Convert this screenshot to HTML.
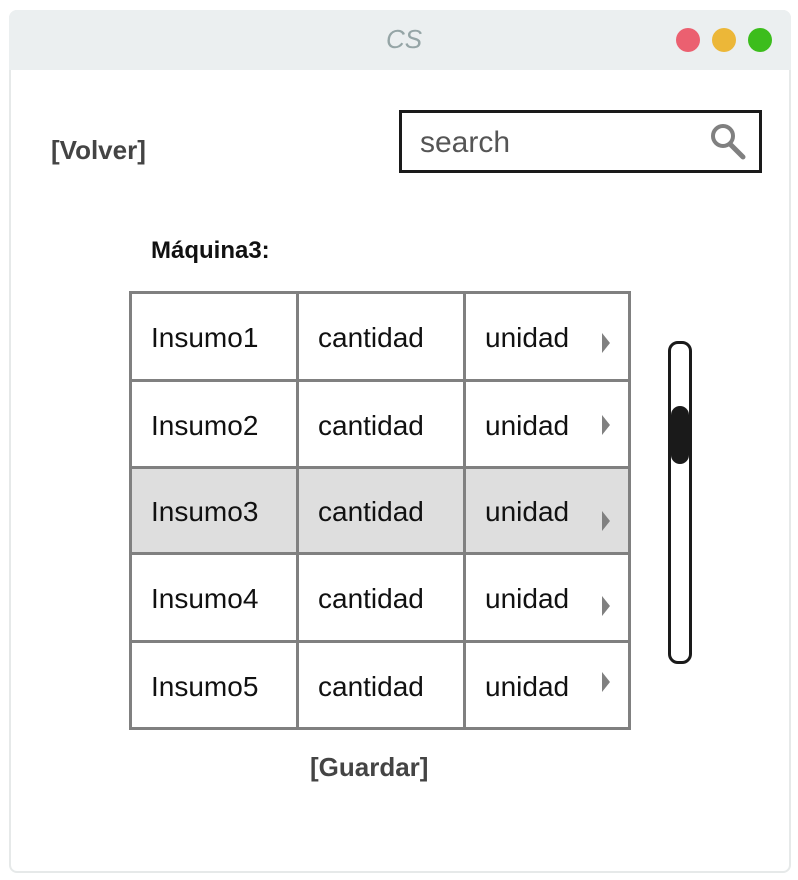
<!DOCTYPE html>
<html><head><meta charset="utf-8"><style>
*{margin:0;padding:0;box-sizing:border-box}
body{width:798px;height:880px;background:#fff;position:relative;font-family:"Liberation Sans","DejaVu Sans",sans-serif;overflow:hidden}
.abs{position:absolute}
.win{left:9px;top:10px;width:782px;height:863px;border:2px solid #e6e9e9;border-radius:8px;background:#fff}
.bar{left:9px;top:10px;width:782px;height:60px;background:#ebeff0;border-radius:8px 8px 0 0}
.dot{width:24px;height:24px;border-radius:50%;top:28px}
.cell{position:absolute;border:3px solid #808080;font-size:28px;color:#111;padding-left:19px;padding-top:3px;display:flex;align-items:center}
.tri{position:absolute;width:0;height:0;border-top:10px solid transparent;border-bottom:10px solid transparent;border-left:8px solid #808080}
</style></head><body>
<div class="abs win"></div>
<div class="abs bar"></div>
<div class="abs" style="left:386px;top:24px;font-size:26px;font-style:italic;color:#95a5a6">CS</div>
<div class="abs dot" style="left:676px;background:#eb6070"></div>
<div class="abs dot" style="left:712px;background:#ecb738"></div>
<div class="abs dot" style="left:748px;background:#3cbd1c"></div>
<div class="abs" style="left:51px;top:135px;font-size:26px;font-weight:bold;color:#444">[Volver]</div>
<div class="abs" style="left:399px;top:110px;width:363px;height:63px;border:3px solid #1a1a1a"></div>
<div class="abs" style="left:420px;top:126px;font-size:30px;color:#555">search</div>
<svg class="abs" style="left:708px;top:122px" width="40" height="40"><circle cx="15" cy="14" r="10" fill="none" stroke="#808080" stroke-width="4"/><line x1="22" y1="22" x2="35" y2="35" stroke="#808080" stroke-width="5" stroke-linecap="round"/></svg>
<div class="abs" style="left:151px;top:237px;font-size:24px;font-weight:bold;color:#111">Máquina3:</div>

<div class="cell" style="left:129px;top:291px;width:170px;height:91px">Insumo1</div>
<div class="cell" style="left:296px;top:291px;width:170px;height:91px">cantidad</div>
<div class="cell" style="left:463px;top:291px;width:168px;height:91px">unidad</div>
<div class="cell" style="left:129px;top:379px;width:170px;height:90px">Insumo2</div>
<div class="cell" style="left:296px;top:379px;width:170px;height:90px">cantidad</div>
<div class="cell" style="left:463px;top:379px;width:168px;height:90px">unidad</div>
<div class="cell" style="left:129px;top:466px;width:170px;height:89px;background:#dedede">Insumo3</div>
<div class="cell" style="left:296px;top:466px;width:170px;height:89px;background:#dedede">cantidad</div>
<div class="cell" style="left:463px;top:466px;width:168px;height:89px;background:#dedede">unidad</div>
<div class="cell" style="left:129px;top:552px;width:170px;height:91px">Insumo4</div>
<div class="cell" style="left:296px;top:552px;width:170px;height:91px">cantidad</div>
<div class="cell" style="left:463px;top:552px;width:168px;height:91px">unidad</div>
<div class="cell" style="left:129px;top:640px;width:170px;height:90px">Insumo5</div>
<div class="cell" style="left:296px;top:640px;width:170px;height:90px">cantidad</div>
<div class="cell" style="left:463px;top:640px;width:168px;height:90px">unidad</div>

<div class="tri" style="left:602px;top:333px"></div>
<div class="tri" style="left:602px;top:415px"></div>
<div class="tri" style="left:602px;top:511px"></div>
<div class="tri" style="left:602px;top:596px"></div>
<div class="tri" style="left:602px;top:672px"></div>

<div class="abs" style="left:668px;top:341px;width:24px;height:323px;border:3px solid #1a1a1a;border-radius:10px"></div>
<div class="abs" style="left:671px;top:406px;width:18px;height:58px;background:#1a1a1a;border-radius:9px"></div>

<div class="abs" style="left:310px;top:752px;font-size:26px;font-weight:bold;color:#444">[Guardar]</div>
</body></html>
